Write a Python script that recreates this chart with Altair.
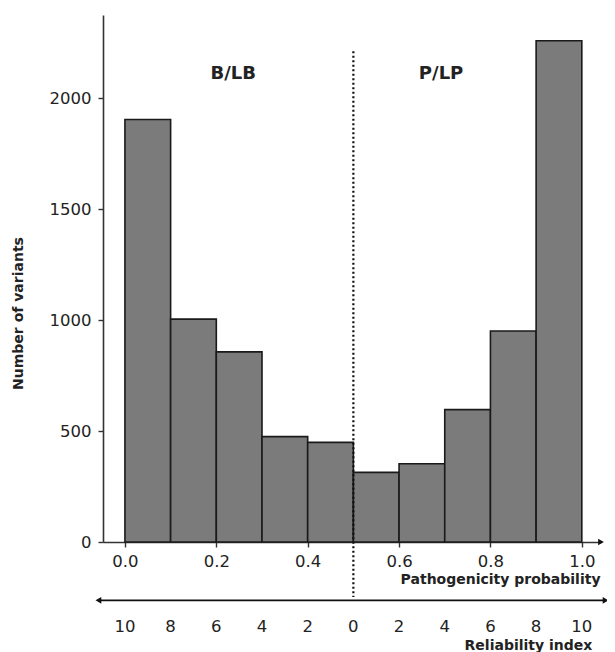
import altair as alt
import pandas as pd

# ---- data ----
bin_start = [0.0, 0.1, 0.2, 0.3, 0.4, 0.5, 0.6, 0.7, 0.8, 0.9]
bin_end = [0.1, 0.2, 0.3, 0.4, 0.5, 0.6, 0.7, 0.8, 0.9, 1.0]
counts = [1905, 1005, 857, 475, 449, 314, 353, 597, 951, 2260]

x_ticks = [0.0, 0.2, 0.4, 0.6, 0.8, 1.0]
y_ticks = [0, 500, 1000, 1500, 2000]

reliab_pos = [0.0, 0.1, 0.2, 0.3, 0.4, 0.5, 0.6, 0.7, 0.8, 0.9, 1.0]
reliab_labels = ["10", "8", "6", "4", "2", "0", "2", "4", "6", "8", "10"]

group_labels = ["B/LB", "P/LP"]
group_x = [0.237, 0.692]
group_y = [2089, 2089]

X_DOMAIN = [-0.048, 1.042]
Y_DOMAIN = [0, 2376]

FONT = "DejaVu Sans"
TXT = "#222222"
AX = "#333333"

bars_df = pd.DataFrame({"start": bin_start, "end": bin_end, "count": counts})
xs = alt.Scale(domain=X_DOMAIN, nice=False, zero=False)
ys = alt.Scale(domain=Y_DOMAIN, nice=False, zero=False)

x_axis = alt.Axis(
    values=x_ticks, format=".1f", title=None, grid=False,
    domainColor=AX, domainWidth=1.6, tickColor=AX, tickWidth=1.4, tickSize=5,
    labelFont=FONT, labelFontSize=16.5, labelColor=TXT, labelPadding=6.5,
)
y_axis = alt.Axis(
    values=y_ticks, format="d", grid=False,
    title="Number of variants", titleFont=FONT, titleFontSize=14,
    titleFontWeight="bold", titleColor=TXT, titleX=-85, titleY=298,
    titleAlign="center", titleBaseline="middle", titleAngle=270,
    domainColor=AX, domainWidth=1.6, tickColor=AX, tickWidth=1.4, tickSize=5,
    labelFont=FONT, labelFontSize=16.5, labelColor=TXT, labelPadding=7,
)


def X(field):
    return alt.X(field, scale=xs, axis=x_axis)


def Y(field):
    return alt.Y(field, scale=ys, axis=y_axis)


bars = alt.Chart(bars_df).mark_rect(
    fill="#7b7b7b", stroke="#1a1a1a", strokeWidth=1.6
).encode(
    x=X("start:Q"),
    x2="end:Q",
    y=Y("count:Q"),
    y2=alt.datum(0),
)

# dotted divider at 0.5
div_df = pd.DataFrame({"x": [0.5], "y": [2213], "y2": [-248]})
divider = alt.Chart(div_df).mark_rule(
    color="#111111", strokeWidth=2.2, strokeDash=[2, 2.5]
).encode(
    x=X("x:Q"),
    y=Y("y:Q"),
    y2="y2:Q",
)

# group labels
grp_df = pd.DataFrame({"x": group_x, "y": group_y, "t": group_labels})
groups = alt.Chart(grp_df).mark_text(
    font=FONT, fontSize=18, fontWeight="bold", color=TXT, baseline="alphabetic"
).encode(
    x=X("x:Q"),
    y=Y("y:Q"),
    text="t:N",
)

# x-axis arrowhead
xarrow_df = pd.DataFrame({"x": [X_DOMAIN[1]], "y": [0]})
xarrow = alt.Chart(xarrow_df).mark_point(
    shape="triangle-right", filled=True, size=45, color="#111111", opacity=1
).encode(
    x=X("x:Q"),
    y=Y("y:Q"),
)

# axis titles under the x axis
titles_df = pd.DataFrame({
    "x": [1.041, 1.023],
    "y": [-191, -488],
    "t": ["Pathogenicity probability", "Reliability index"],
})
titles = alt.Chart(titles_df).mark_text(
    font=FONT, fontSize=14, fontWeight="bold", color=TXT, align="right",
    baseline="alphabetic"
).encode(
    x=X("x:Q"),
    y=Y("y:Q"),
    text="t:N",
)

# reliability double arrow
rel_line_df = pd.DataFrame({"x": [-0.058], "x2": [1.052], "y": [-263]})
rel_line = alt.Chart(rel_line_df).mark_rule(color="#111111", strokeWidth=1.8).encode(
    x=X("x:Q"),
    x2="x2:Q",
    y=Y("y:Q"),
)
rel_heads_df = pd.DataFrame({"x": [-0.058, 1.052], "y": [-263, -263],
                             "s": ["triangle-left", "triangle-right"]})
rel_heads = alt.Chart(rel_heads_df).mark_point(
    filled=True, size=45, color="#111111", opacity=1
).encode(
    x=X("x:Q"),
    y=Y("y:Q"),
    shape=alt.Shape("s:N", scale=None, legend=None),
)

# reliability index labels
rel_df = pd.DataFrame({"x": reliab_pos, "y": [-407] * len(reliab_pos), "t": reliab_labels})
rel_labels = alt.Chart(rel_df).mark_text(
    font=FONT, fontSize=16.5, color=TXT, baseline="alphabetic"
).encode(
    x=X("x:Q"),
    y=Y("y:Q"),
    text="t:N",
)

chart = alt.layer(
    bars, divider, groups, xarrow, titles, rel_line, rel_heads, rel_labels
).properties(
    width=498, height=527,
    autosize=alt.AutoSizeParams(type="none"),
    padding={"left": 95, "top": 7, "right": 6, "bottom": 110},
).configure_view(stroke=None)

chart.save("out.html", embed_options={"renderer": "svg", "actions": False})
